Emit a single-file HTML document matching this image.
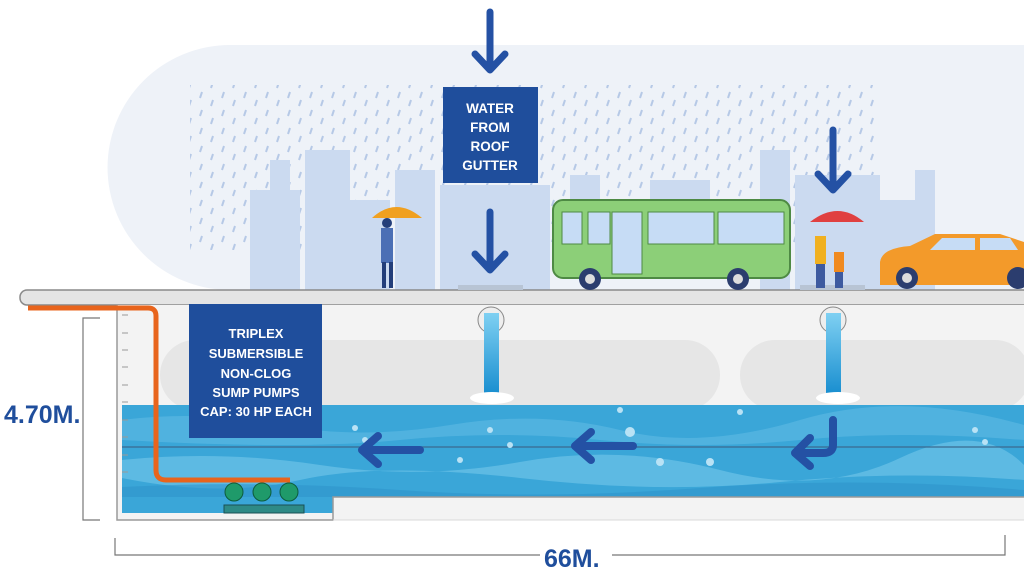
<!DOCTYPE html>
<html><head><meta charset="utf-8"><style>
html,body{margin:0;padding:0;background:#fff;width:1024px;height:585px;overflow:hidden}
svg{display:block}
text{font-family:"Liberation Sans",Arial,sans-serif;font-weight:bold}
</style></head><body>
<svg width="1024" height="585" viewBox="0 0 1024 585" xmlns="http://www.w3.org/2000/svg">
<defs>
<linearGradient id="fall" x1="0" y1="0" x2="0" y2="1"><stop offset="0" stop-color="#7fd0f2"/><stop offset="1" stop-color="#1a8fd0"/></linearGradient>
<pattern id="rain" width="22" height="18" patternUnits="userSpaceOnUse"><line x1="4" y1="2" x2="2" y2="8" stroke="#a8bfe2" stroke-width="2"/><line x1="15" y1="10" x2="13" y2="16" stroke="#a8bfe2" stroke-width="2"/></pattern>
</defs>
<path d="M230 45 H1024 V290 H230 A122 122 0 0 1 230 45 Z" fill="#eef2f8"/>
<rect x="190" y="85" width="690" height="165" fill="url(#rain)" opacity="0.8"/>
<g fill="#cbdaf0">
<rect x="250" y="190" width="50" height="100"/><rect x="270" y="160" width="20" height="40"/>
<rect x="305" y="150" width="45" height="140"/><rect x="350" y="200" width="40" height="90"/>
<rect x="395" y="170" width="40" height="120"/><rect x="440" y="185" width="110" height="105"/>
<rect x="570" y="175" width="30" height="30"/><rect x="650" y="180" width="60" height="30"/>
<rect x="760" y="150" width="30" height="140"/><rect x="795" y="175" width="85" height="115"/>
<rect x="880" y="200" width="40" height="90"/><rect x="915" y="170" width="20" height="120"/>
</g>
<rect x="20" y="290" width="1010" height="15" rx="7" fill="#e4e4e4" stroke="#8a8a8a" stroke-width="1.5"/>
<rect x="458" y="285" width="65" height="5" fill="#b8c4d4"/>
<rect x="800" y="285" width="65" height="5" fill="#b8c4d4"/>
<rect x="117" y="305" width="907" height="215" fill="#f3f3f3"/>
<g fill="#e6e6e6">
<rect x="160" y="340" width="560" height="70" rx="35"/><rect x="740" y="340" width="290" height="70" rx="35"/>
</g>
<path d="M122 405 H1024 V497 H333 V513 H122 Z" fill="#3aa6d8"/>
<path d="M122 420 Q200 410 280 425 T450 425 T620 430 T800 420 T1024 425 V440 Q900 430 800 440 T600 440 T400 440 T122 440Z" fill="#5ab8e2" opacity="0.7"/>
<path d="M122 460 Q220 450 320 465 T520 462 T720 470 T900 458 T1024 465 V480 Q900 470 780 482 T520 478 T300 480 T122 478Z" fill="#6cc3e8" opacity="0.7"/>
<path d="M122 487 Q260 480 400 490 T700 488 T1024 490 V497 H122Z" fill="#2e95cc" opacity="0.6"/>
<line x1="122" y1="447" x2="1024" y2="447" stroke="#3b6a90" stroke-width="1.2"/>
<g fill="#b9e2f5">
<circle cx="355" cy="428" r="3"/><circle cx="365" cy="440" r="3"/><circle cx="460" cy="460" r="3"/><circle cx="490" cy="430" r="3"/><circle cx="510" cy="445" r="3"/>
<circle cx="620" cy="410" r="3"/><circle cx="630" cy="432" r="5"/><circle cx="660" cy="462" r="4"/><circle cx="710" cy="462" r="4"/><circle cx="740" cy="412" r="3"/><circle cx="975" cy="430" r="3"/><circle cx="985" cy="442" r="3"/>
</g>
<path d="M117 305 V520 H333 V497 H1024" fill="none" stroke="#9a9a9a" stroke-width="1.5"/>
<path d="M333 520 H1024" stroke="#d8d8d8" stroke-width="1"/>
<g stroke="#999" stroke-width="1"><line x1="122" y1="315" x2="128" y2="315"/><line x1="122" y1="333" x2="128" y2="333"/><line x1="122" y1="350" x2="128" y2="350"/><line x1="122" y1="367" x2="128" y2="367"/><line x1="122" y1="385" x2="128" y2="385"/><line x1="122" y1="402" x2="128" y2="402"/><line x1="122" y1="420" x2="128" y2="420"/><line x1="122" y1="437" x2="128" y2="437"/><line x1="122" y1="455" x2="128" y2="455"/><line x1="122" y1="472" x2="128" y2="472"/></g>
<path d="M28 308 H148 Q156 308 156 316 V470 Q156 480 166 480 H290" fill="none" stroke="#e8641c" stroke-width="5"/>
<g fill="#1f9a6a" stroke="#0d5c3d" stroke-width="1">
<circle cx="234" cy="492" r="9"/><circle cx="262" cy="492" r="9"/><circle cx="289" cy="492" r="9"/></g>
<rect x="224" y="505" width="80" height="8" fill="#2e8a86" stroke="#1a5055"/>
<g>
<circle cx="491" cy="320" r="13" fill="#eee" stroke="#888"/><rect x="484" y="313" width="15" height="80" fill="url(#fall)"/>
<ellipse cx="492" cy="398" rx="22" ry="6" fill="#fff"/>
<circle cx="833" cy="320" r="13" fill="#eee" stroke="#888"/><rect x="826" y="313" width="15" height="80" fill="url(#fall)"/>
<ellipse cx="838" cy="398" rx="22" ry="6" fill="#fff"/>
</g>
<g fill="none" stroke="#2451a4" stroke-width="8" stroke-linecap="round" stroke-linejoin="round">
<path d="M420 450 H362 M378 436 L362 450 L378 464"/>
<path d="M633 446 H575 M591 432 L575 446 L591 460"/>
<path d="M833 420 V445 Q833 453 823 453 H797 M810 438 L795 453 L810 466"/>
</g>
<g fill="none" stroke="#2451a4" stroke-width="7" stroke-linecap="round" stroke-linejoin="round">
<path d="M490 12 V68 M475 54 L490 70 L505 54"/>
<path d="M490 212 V268 M475 254 L490 270 L505 254"/>
<path d="M833 130 V188 M818 174 L833 190 L848 174"/>
</g>
<rect x="553" y="200" width="237" height="78" rx="10" fill="#8ccf78" stroke="#4e8a44" stroke-width="2"/>
<g fill="#c6dcf5" stroke="#4e8a44"><rect x="562" y="212" width="20" height="32"/><rect x="588" y="212" width="22" height="32"/><rect x="612" y="212" width="30" height="62"/><rect x="648" y="212" width="66" height="32"/><rect x="718" y="212" width="66" height="32"/></g>
<circle cx="590" cy="279" r="11" fill="#2b3d6e"/><circle cx="738" cy="279" r="11" fill="#2b3d6e"/>
<circle cx="590" cy="279" r="5" fill="#ddd"/><circle cx="738" cy="279" r="5" fill="#ddd"/>
<path d="M880 262 Q882 248 910 246 L935 234 H1000 L1024 242 V285 H880 Z" fill="#f39a2a"/>
<path d="M942 238 H975 V250 H930 Z M980 238 H1010 L1018 250 H980Z" fill="#c6dcf5"/>
<circle cx="907" cy="278" r="11" fill="#2b3d6e"/><circle cx="907" cy="278" r="5" fill="#ddd"/>
<circle cx="1018" cy="278" r="11" fill="#2b3d6e"/>
<path d="M372 218 Q396 196 422 218 Z" fill="#f0a020"/><rect x="381" y="228" width="12" height="35" fill="#4b6fb5"/><rect x="382" y="262" width="4" height="26" fill="#233e7a"/><rect x="389" y="262" width="4" height="26" fill="#233e7a"/><circle cx="387" cy="223" r="5" fill="#233e7a"/>
<path d="M810 222 Q838 200 864 222 Z" fill="#e04040"/><rect x="815" y="236" width="11" height="28" fill="#f0b020"/><rect x="816" y="264" width="9" height="24" fill="#3d5aa0"/><rect x="834" y="252" width="10" height="20" fill="#f08a20"/><rect x="835" y="272" width="8" height="16" fill="#3d5aa0"/>
<rect x="443" y="87" width="95" height="96" fill="#1f4e9c"/>
<g fill="#fff" font-size="13.5" text-anchor="middle">
<text x="490" y="113">WATER</text><text x="490" y="132">FROM</text><text x="490" y="151">ROOF</text><text x="490" y="170">GUTTER</text></g>
<rect x="189" y="304" width="133" height="134" fill="#1f4e9c"/>
<g fill="#fff" font-size="13" text-anchor="middle">
<text x="256" y="338">TRIPLEX</text><text x="256" y="358">SUBMERSIBLE</text><text x="256" y="378">NON-CLOG</text><text x="256" y="397">SUMP PUMPS</text><text x="256" y="416">CAP: 30 HP EACH</text></g>
<path d="M100 318 H83 V520 H100" fill="none" stroke="#777" stroke-width="1.2"/>
<text x="4" y="423" font-size="25" fill="#1f4e9c">4.70M.</text>
<path d="M115 538 V555 H540 M612 555 H1005 V535" fill="none" stroke="#777" stroke-width="1.2"/>
<text x="544" y="567" font-size="25" fill="#1f4e9c">66M.</text>
</svg>
</body></html>
